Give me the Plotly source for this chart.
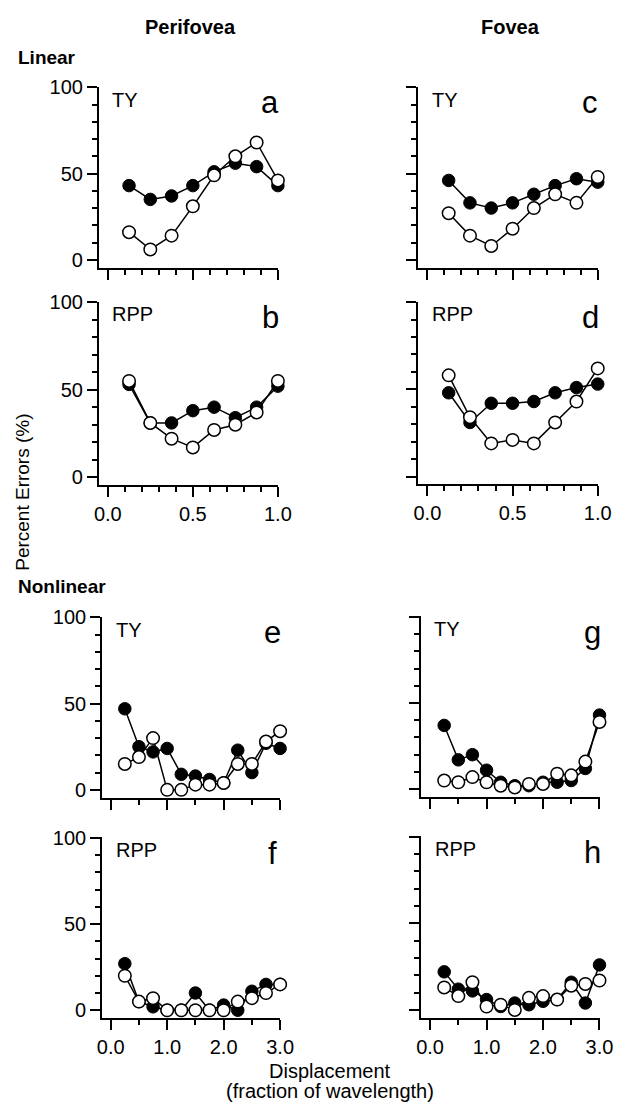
import plotly.graph_objects as go

# ---------------- data ----------------
x_linear = [0.125, 0.25, 0.375, 0.5, 0.625, 0.75, 0.875, 1.0]
x_nonlinear = [0.25, 0.5, 0.75, 1.0, 1.25, 1.5, 1.75, 2.0, 2.25, 2.5, 2.75, 3.0]

a_filled = [43, 35, 37, 43, 51, 56, 54, 43]
a_open = [16, 6, 14, 31, 49, 60, 68, 46]
b_filled = [53, 31, 31, 38, 40, 34, 40, 52]
b_open = [55, 31, 22, 17, 27, 30, 37, 55]
c_filled = [46, 33, 30, 33, 38, 43, 47, 45]
c_open = [27, 14, 8, 18, 30, 38, 33, 48]
d_filled = [48, 31, 42, 42, 43, 48, 51, 53]
d_open = [58, 34, 19, 21, 19, 31, 43, 62]

e_filled = [47, 25, 22, 24, 9, 8, 6, 4, 23, 10, 27, 24]
e_open = [15, 19, 30, 0, 0, 3, 3, 4, 15, 15, 28, 34]
f_filled = [27, 5, 2, 0, 0, 10, 0, 3, 0, 11, 15, 15]
f_open = [20, 5, 7, 0, 0, 0, 0, 0, 5, 7, 10, 15]
g_filled = [37, 17, 20, 11, 4, 2, 2, 4, 4, 5, 12, 43]
g_open = [5, 4, 7, 4, 2, 1, 3, 3, 9, 8, 16, 39]
h_filled = [22, 12, 11, 6, 2, 4, 3, 5, 6, 16, 4, 26]
h_open = [13, 8, 16, 2, 3, 0, 7, 8, 6, 14, 15, 17]

panel_letters = ["a", "b", "c", "d", "e", "f", "g", "h"]
observers = ["TY", "RPP", "TY", "RPP", "TY", "RPP", "TY", "RPP"]
column_titles = ["Perifovea", "Fovea"]
row_titles = ["Linear", "Nonlinear"]
y_title = "Percent Errors (%)"
x_title = ["Displacement", "(fraction of wavelength)"]

W, H = 631, 1117
FONT = "Liberation Sans, Arial, Helvetica, sans-serif"

# panel geometry in pixels: (left axis px, x=0 px, x=max px, xmax, y=100 px, y=0 px, bottom axis px)
geom = {
    "a": (96.7, 106.0, 281.7, 1.0, 77.7, 252.7, 261.0),
    "b": (96.7, 106.0, 281.7, 1.0, 295.0, 472.7, 480.7),
    "c": (426.0, 435.5, 611.5, 1.0, 77.7, 252.7, 261.0),
    "d": (426.0, 435.5, 611.5, 1.0, 295.0, 472.0, 480.0),
    "e": (100.0, 109.0, 284.0, 3.0, 614.0, 789.0, 797.0),
    "f": (100.0, 109.0, 284.0, 3.0, 837.0, 1012.0, 1020.0),
    "g": (428.5, 438.3, 613.3, 3.0, 613.5, 788.3, 796.5),
    "h": (429.0, 438.3, 613.3, 3.0, 836.0, 1011.7, 1020.0),
}

series = {
    "a": (x_linear, a_filled, a_open),
    "b": (x_linear, b_filled, b_open),
    "c": (x_linear, c_filled, c_open),
    "d": (x_linear, d_filled, d_open),
    "e": (x_nonlinear, e_filled, e_open),
    "f": (x_nonlinear, f_filled, f_open),
    "g": (x_nonlinear, g_filled, g_open),
    "h": (x_nonlinear, h_filled, h_open),
}

show_ylabels = {"a": True, "b": True, "e": True, "f": True}
show_xlabels = {"b": True, "d": True, "f": True, "h": True}

def px(xp):
    return xp / W

def py(yp):
    return 1 - yp / H

fig = go.Figure()
layout = dict(
    width=W, height=H, margin=dict(l=0, r=0, t=0, b=0),
    paper_bgcolor="white", plot_bgcolor="white", showlegend=False,
    font=dict(family=FONT, color="black", size=20), hovermode=False,
)
annotations = []

for i, letter in enumerate(panel_letters):
    n = i + 1
    xl, x0, x1, xmax, yt, y0, yb = geom[letter]
    xs, yf, yo = series[letter]
    upx = xmax / (x1 - x0)
    upy = 100.0 / (y0 - yt)
    xr = [-(x0 - xl) * upx, xmax * 1.002]
    yr = [-(yb - y0) * upy, 100.3]
    xa = "x" if n == 1 else f"x{n}"
    ya = "y" if n == 1 else f"y{n}"
    linear = xmax == 1.0
    axis_common = dict(showgrid=False, zeroline=False, showline=True, linecolor="black",
                       linewidth=1.6, ticks="outside", tickcolor="black", tickwidth=1.6,
                       ticklen=10, tickfont=dict(family=FONT, size=20, color="black"))
    layout["xaxis" if n == 1 else f"xaxis{n}"] = dict(
        axis_common, domain=[px(xl), px(x1)], range=xr, anchor=ya,
        tick0=0, dtick=0.5 if linear else 1.0, tickformat=".1f",
        showticklabels=show_xlabels.get(letter, False),
        minor=dict(ticks="outside", dtick=0.1 if linear else 0.5, tick0=0,
                   ticklen=5, tickwidth=1.6, tickcolor="black"),
    )
    layout["yaxis" if n == 1 else f"yaxis{n}"] = dict(
        axis_common, domain=[py(yb), py(yt)], range=yr, anchor=xa,
        tick0=0, dtick=50, showticklabels=show_ylabels.get(letter, False),
        minor=dict(ticks="outside", dtick=10, tick0=0,
                   ticklen=5, tickwidth=1.6, tickcolor="black"),
    )
    # connecting lines first, then filled markers, then open markers on top
    for yy in (yf, yo):
        fig.add_trace(go.Scatter(x=xs, y=yy, mode="lines", xaxis=xa, yaxis=ya,
                                 line=dict(color="black", width=1.5),
                                 cliponaxis=False, hoverinfo="skip"))
    fig.add_trace(go.Scatter(x=xs, y=yf, mode="markers", xaxis=xa, yaxis=ya,
                             marker=dict(symbol="circle", size=12.5, color="black",
                                         line=dict(color="black", width=1)),
                             cliponaxis=False))
    fig.add_trace(go.Scatter(x=xs, y=yo, mode="markers", xaxis=xa, yaxis=ya,
                             marker=dict(symbol="circle", size=12.5, color="white",
                                         line=dict(color="black", width=1.5)),
                             cliponaxis=False))
    annotations.append(dict(x=px(xl + 12), y=py(yt + 13), xref="paper", yref="paper",
                            text=observers[i], showarrow=False, xanchor="left",
                            yanchor="middle", font=dict(family=FONT, size=20)))
    annotations.append(dict(x=px(x1 - 8), y=py(yt + 16), xref="paper", yref="paper",
                            text=letter, showarrow=False, xanchor="center",
                            yanchor="middle", font=dict(family=FONT, size=31)))

annotations += [
    dict(x=px(191), y=py(17), xref="paper", yref="paper", text=f"<b>{column_titles[0]}</b>",
         showarrow=False, xanchor="center", yanchor="middle", font=dict(family=FONT, size=20)),
    dict(x=px(521), y=py(17), xref="paper", yref="paper", text=f"<b>{column_titles[1]}</b>",
         showarrow=False, xanchor="center", yanchor="middle", font=dict(family=FONT, size=20)),
    dict(x=px(11), y=py(48), xref="paper", yref="paper", text=f"<b>{row_titles[0]}</b>",
         showarrow=False, xanchor="left", yanchor="middle", font=dict(family=FONT, size=19)),
    dict(x=px(11), y=py(583), xref="paper", yref="paper", text=f"<b>{row_titles[1]}</b>",
         showarrow=False, xanchor="left", yanchor="middle", font=dict(family=FONT, size=19)),
    dict(x=px(18), y=py(488), xref="paper", yref="paper", text=y_title, textangle=-90,
         showarrow=False, xanchor="center", yanchor="middle", font=dict(family=FONT, size=19)),
    dict(x=px(335), y=py(1073), xref="paper", yref="paper", text=x_title[0],
         showarrow=False, xanchor="center", yanchor="middle", font=dict(family=FONT, size=20)),
    dict(x=px(335), y=py(1094), xref="paper", yref="paper", text=x_title[1],
         showarrow=False, xanchor="center", yanchor="middle", font=dict(family=FONT, size=20)),
]
layout["annotations"] = annotations
fig.update_layout(**layout)
fig.write_html("out.html", config={"displayModeBar": False},
               post_script="document.body.style.margin='0';")
